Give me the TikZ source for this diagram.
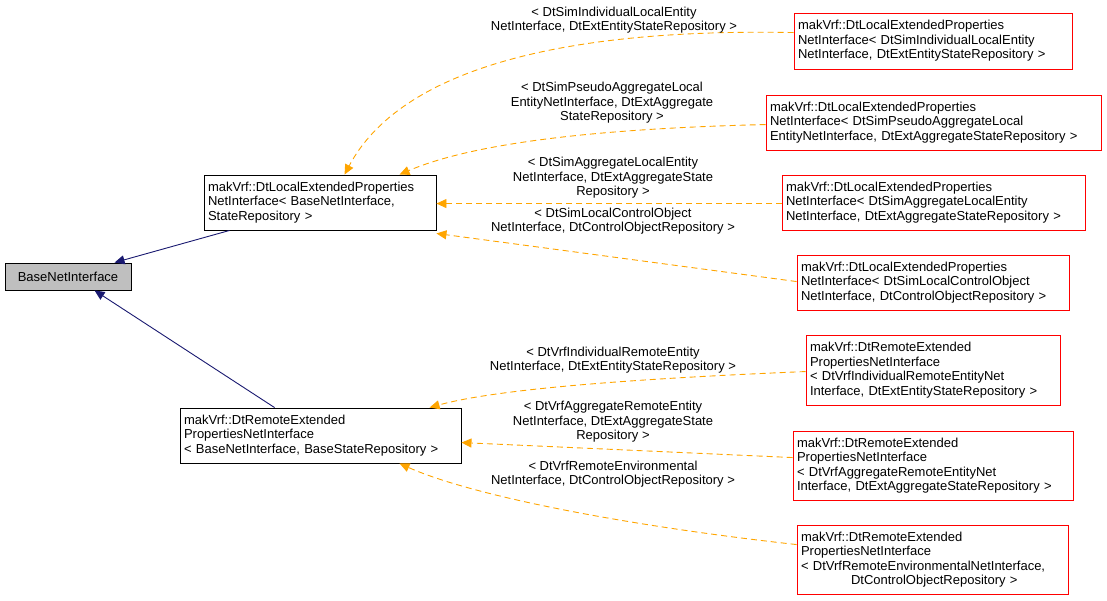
\documentclass[tikz,border=0pt]{standalone}
\usepackage{fontspec}
\setmainfont{Liberation Sans}
\usetikzlibrary{arrows.meta}
\definecolor{navyc}{RGB}{25,25,112}
\definecolor{orangec}{RGB}{255,165,0}
\begin{document}
\begin{tikzpicture}[x=1pt,y=-1pt,
  every node/.style={font=\fontsize{13}{14.5}\selectfont, inner sep=2pt},
  cls/.style={draw=red, line width=0.9pt, align=left, inner xsep=4pt},
  basebox/.style={draw=black, line width=0.9pt, align=left, inner xsep=4pt},
  inh/.style={color=navyc, line width=0.9pt, -{Triangle[length=10pt,width=9pt]}},
  dep/.style={color=orangec, line width=0.9pt, dash pattern=on 6pt off 4pt, -{Triangle[length=10pt,width=9pt]}},
  lbl/.style={align=center}]
\useasboundingbox (0,0) rectangle (1107,600);
\node[basebox, fill=black!25, align=center, text width=118pt, minimum height=27pt] (base) at (68,276.5) {BaseNetInterface};
\node[basebox, text width=224pt, minimum height=55pt] (L) at (320,202.5) {makVrf::DtLocalExtendedProperties\\NetInterface< BaseNetInterface,\\StateRepository >};
\node[basebox, text width=273pt, minimum height=55pt] (R) at (320.5,435.5) {makVrf::DtRemoteExtended\\PropertiesNetInterface\\< BaseNetInterface, BaseStateRepository >};
\node[cls, text width=270pt, minimum height=56pt] (b1) at (933,41) {makVrf::DtLocalExtendedProperties\\NetInterface< DtSimIndividualLocalEntity\\NetInterface, DtExtEntityStateRepository >};
\node[cls, text width=327pt, minimum height=55pt] (b2) at (933.5,122.5) {makVrf::DtLocalExtendedProperties\\NetInterface< DtSimPseudoAggregateLocal\\EntityNetInterface, DtExtAggregateStateRepository >};
\node[cls, text width=295pt, minimum height=55pt] (b3) at (933.5,202.5) {makVrf::DtLocalExtendedProperties\\NetInterface< DtSimAggregateLocalEntity\\NetInterface, DtExtAggregateStateRepository >};
\node[cls, text width=264pt, minimum height=55pt] (b4) at (933,282.5) {makVrf::DtLocalExtendedProperties\\NetInterface< DtSimLocalControlObject\\NetInterface, DtControlObjectRepository >};
\node[cls, text width=246pt, minimum height=70pt] (b5) at (933,370) {makVrf::DtRemoteExtended\\PropertiesNetInterface\\< DtVrfIndividualRemoteEntityNet\\Interface, DtExtEntityStateRepository >};
\node[cls, text width=272pt, minimum height=69pt] (b6) at (933,465.5) {makVrf::DtRemoteExtended\\PropertiesNetInterface\\< DtVrfAggregateRemoteEntityNet\\Interface, DtExtAggregateStateRepository >};
\node[cls, text width=263pt, minimum height=69pt] (b7) at (932.5,559.5) {makVrf::DtRemoteExtended\\PropertiesNetInterface\\< DtVrfRemoteEnvironmentalNetInterface,\\\hspace*{50pt}DtControlObjectRepository >};
% inheritance
\draw[inh] ([xshift=26pt]L.south west) -- ([xshift=110pt]base.north west);
\draw[inh] ([xshift=95pt]R.north west) -- ([xshift=90pt]base.south west);
% template deps
\draw[dep] ([yshift=-20pt]b1.north west) .. controls (560,28) and (400,70) .. ([xshift=141pt]L.north west);
\draw[dep] ([yshift=-30pt]b2.north west) .. controls (620,128) and (480,140) .. ([xshift=196pt]L.north west);
\draw[dep] ([yshift=-29pt]b3.north west) -- ([yshift=-29pt]L.north east);
\draw[dep] ([yshift=-27pt]b4.north west) -- ([yshift=-3pt]L.south east);
\draw[dep] ([yshift=-37pt]b5.north west) .. controls (650,378) and (500,388) .. ([xshift=250pt]R.north west);
\draw[dep] ([yshift=-27pt]b6.north west) -- ([yshift=-35pt]R.north east);
\draw[dep] ([yshift=-20pt]b7.north west) .. controls (620,525) and (470,495) .. ([xshift=220pt]R.south west);
\node[lbl] (t1) at (614,20) {< DtSimIndividualLocalEntity\\NetInterface, DtExtEntityStateRepository >};
\node[lbl] (t2) at (612,103) {< DtSimPseudoAggregateLocal\\EntityNetInterface, DtExtAggregate\\StateRepository >};
\node[lbl] (t3) at (613,178) {< DtSimAggregateLocalEntity\\NetInterface, DtExtAggregateState\\Repository >};
\node[lbl] (t4) at (613,221) {< DtSimLocalControlObject\\NetInterface, DtControlObjectRepository >};
\node[lbl] (t5) at (613,360) {< DtVrfIndividualRemoteEntity\\NetInterface, DtExtEntityStateRepository >};
\node[lbl] (t6) at (613,422) {< DtVrfAggregateRemoteEntity\\NetInterface, DtExtAggregateState\\Repository >};
\node[lbl] (t7) at (613,474) {< DtVrfRemoteEnvironmental\\NetInterface, DtControlObjectRepository >};
\end{tikzpicture}
\end{document}
